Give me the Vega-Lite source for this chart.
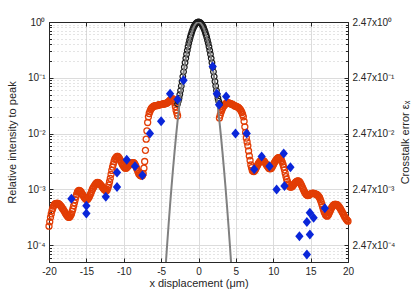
{
"$schema": "https://vega.github.io/schema/vega-lite/v6.json",
"width": 299, "height": 240,
"autosize": {"type": "none"},
"padding": {"left": 49, "top": 22, "right": 68, "bottom": 33},
"background": "white",
"config": {
 "font": "Liberation Sans",
 "view": {"stroke": "#262626", "strokeWidth": 1},
 "axis": {"labelFont": "Liberation Sans", "titleFont": "Liberation Sans", "labelColor": "#262626", "titleColor": "#262626", "domainColor": "#262626", "tickColor": "#262626", "labelFontSize": 10, "titleFontSize": 11, "titleFontWeight": "normal", "labelFlush": false, "labelOverlap": false}
},
"datasets": {
 "red": [
{"x":-20,"y":2.19e-4},{"x":-19.9,"y":2.63e-4},{"x":-19.8,"y":3.16e-4},{"x":-19.7,"y":3.63e-4},{"x":-19.6,"y":4.17e-4},{"x":-19.5,"y":4.57e-4},{"x":-19.4,"y":5.01e-4},{"x":-19.3,"y":5.25e-4},{"x":-19.2,"y":5.5e-4},{"x":-19.1,"y":5.56e-4},{"x":-19,"y":5.62e-4},{"x":-18.9,"y":5.62e-4},{"x":-18.8,"y":5.62e-4},{"x":-18.7,"y":5.5e-4},{"x":-18.6,"y":5.37e-4},{"x":-18.5,"y":5.19e-4},{"x":-18.4,"y":5.01e-4},{"x":-18.3,"y":4.79e-4},{"x":-18.2,"y":4.57e-4},{"x":-18.1,"y":4.37e-4},{"x":-18,"y":4.17e-4},{"x":-17.9,"y":3.94e-4},{"x":-17.8,"y":3.72e-4},{"x":-17.7,"y":3.55e-4},{"x":-17.6,"y":3.39e-4},{"x":-17.5,"y":3.27e-4},{"x":-17.4,"y":3.16e-4},{"x":-17.3,"y":3.16e-4},{"x":-17.2,"y":3.24e-4},{"x":-17.1,"y":3.43e-4},{"x":-17,"y":3.63e-4},{"x":-16.9,"y":4.03e-4},{"x":-16.8,"y":4.47e-4},{"x":-16.7,"y":5.07e-4},{"x":-16.6,"y":5.75e-4},{"x":-16.5,"y":6.53e-4},{"x":-16.4,"y":7.41e-4},{"x":-16.3,"y":8.13e-4},{"x":-16.2,"y":8.91e-4},{"x":-16.1,"y":9.3e-4},{"x":-16,"y":9.55e-4},{"x":-15.9,"y":9.5e-4},{"x":-15.8,"y":9.33e-4},{"x":-15.7,"y":8.91e-4},{"x":-15.6,"y":8.51e-4},{"x":-15.5,"y":8.04e-4},{"x":-15.4,"y":7.59e-4},{"x":-15.3,"y":7.25e-4},{"x":-15.2,"y":6.92e-4},{"x":-15.1,"y":6.76e-4},{"x":-15,"y":6.61e-4},{"x":-14.9,"y":6.6e-4},{"x":-14.8,"y":6.76e-4},{"x":-14.7,"y":7.08e-4},{"x":-14.6,"y":7.41e-4},{"x":-14.5,"y":7.94e-4},{"x":-14.4,"y":8.51e-4},{"x":-14.3,"y":9.23e-4},{"x":-14.2,"y":1.0e-3},{"x":-14.1,"y":1.06e-3},{"x":-14,"y":1.12e-3},{"x":-13.9,"y":1.17e-3},{"x":-13.8,"y":1.23e-3},{"x":-13.7,"y":1.28e-3},{"x":-13.6,"y":1.32e-3},{"x":-13.5,"y":1.33e-3},{"x":-13.4,"y":1.32e-3},{"x":-13.3,"y":1.29e-3},{"x":-13.2,"y":1.26e-3},{"x":-13.1,"y":1.21e-3},{"x":-13,"y":1.17e-3},{"x":-12.9,"y":1.12e-3},{"x":-12.8,"y":1.07e-3},{"x":-12.7,"y":1.03e-3},{"x":-12.6,"y":1.0e-3},{"x":-12.5,"y":9.7e-4},{"x":-12.4,"y":9.55e-4},{"x":-12.3,"y":9.5e-4},{"x":-12.2,"y":1.0e-3},{"x":-12.1,"y":1.08e-3},{"x":-12,"y":1.2e-3},{"x":-11.9,"y":1.37e-3},{"x":-11.8,"y":1.58e-3},{"x":-11.7,"y":1.86e-3},{"x":-11.6,"y":2.19e-3},{"x":-11.5,"y":2.51e-3},{"x":-11.4,"y":2.82e-3},{"x":-11.3,"y":3.16e-3},{"x":-11.2,"y":3.47e-3},{"x":-11.1,"y":3.65e-3},{"x":-11,"y":3.8e-3},{"x":-10.9,"y":3.9e-3},{"x":-10.8,"y":3.89e-3},{"x":-10.7,"y":3.78e-3},{"x":-10.6,"y":3.63e-3},{"x":-10.5,"y":3.43e-3},{"x":-10.4,"y":3.24e-3},{"x":-10.3,"y":3.02e-3},{"x":-10.2,"y":2.82e-3},{"x":-10.1,"y":2.69e-3},{"x":-10,"y":2.57e-3},{"x":-9.9,"y":2.48e-3},{"x":-9.8,"y":2.4e-3},{"x":-9.7,"y":2.4e-3},{"x":-9.6,"y":2.45e-3},{"x":-9.5,"y":2.54e-3},{"x":-9.4,"y":2.63e-3},{"x":-9.3,"y":2.72e-3},{"x":-9.2,"y":2.82e-3},{"x":-9.1,"y":2.89e-3},{"x":-9,"y":2.95e-3},{"x":-8.9,"y":3.0e-3},{"x":-8.8,"y":3.02e-3},{"x":-8.7,"y":3.01e-3},{"x":-8.6,"y":2.95e-3},{"x":-8.5,"y":2.8e-3},{"x":-8.4,"y":2.63e-3},{"x":-8.3,"y":2.43e-3},{"x":-8.2,"y":2.24e-3},{"x":-8.1,"y":2.07e-3},{"x":-8,"y":1.91e-3},{"x":-7.9,"y":1.84e-3},{"x":-7.8,"y":1.78e-3},{"x":-7.7,"y":1.75e-3},{"x":-7.6,"y":1.74e-3},{"x":-7.5,"y":1.78e-3},{"x":-7.4,"y":1.91e-3},{"x":-7.3,"y":2.4e-3},{"x":-7.2,"y":3.16e-3},{"x":-7.1,"y":5.01e-3},{"x":-7,"y":7.94e-3},{"x":-6.9,"y":1.12e-2},{"x":-6.8,"y":1.58e-2},{"x":-6.7,"y":2.0e-2},{"x":-6.6,"y":2.29e-2},{"x":-6.5,"y":2.5e-2},{"x":-6.4,"y":2.69e-2},{"x":-6.3,"y":2.83e-2},{"x":-6.2,"y":2.95e-2},{"x":-6.1,"y":3.02e-2},{"x":-6,"y":3.09e-2},{"x":-5.9,"y":3.12e-2},{"x":-5.8,"y":3.16e-2},{"x":-5.7,"y":3.16e-2},{"x":-5.6,"y":3.16e-2},{"x":-5.5,"y":3.2e-2},{"x":-5.4,"y":3.24e-2},{"x":-5.3,"y":3.27e-2},{"x":-5.2,"y":3.31e-2},{"x":-5.1,"y":3.31e-2},{"x":-5,"y":3.31e-2},{"x":-4.9,"y":3.35e-2},{"x":-4.8,"y":3.39e-2},{"x":-4.7,"y":3.39e-2},{"x":-4.6,"y":3.39e-2},{"x":-4.5,"y":3.43e-2},{"x":-4.4,"y":3.47e-2},{"x":-4.3,"y":3.51e-2},{"x":-4.2,"y":3.55e-2},{"x":-4.1,"y":3.63e-2},{"x":-4,"y":3.72e-2},{"x":-3.9,"y":3.85e-2},{"x":-3.8,"y":3.98e-2},{"x":-3.7,"y":4.07e-2},{"x":-3.6,"y":4.17e-2},{"x":-3.5,"y":4.2e-2},{"x":-3.4,"y":4.17e-2},{"x":-3.3,"y":3.9e-2},{"x":-3.2,"y":3.55e-2},{"x":-3.1,"y":3.05e-2},{"x":-3,"y":2.63e-2},{"x":-2.9,"y":2.34e-2},{"x":-2.8,"y":2.09e-2},
{"x":2.8,"y":1.91e-2},{"x":2.9,"y":2.14e-2},{"x":3,"y":2.4e-2},{"x":3.1,"y":2.6e-2},{"x":3.2,"y":2.82e-2},{"x":3.3,"y":3.0e-2},{"x":3.4,"y":3.16e-2},{"x":3.5,"y":3.27e-2},{"x":3.6,"y":3.39e-2},{"x":3.7,"y":3.47e-2},{"x":3.8,"y":3.55e-2},{"x":3.9,"y":3.57e-2},{"x":4,"y":3.55e-2},{"x":4.1,"y":3.51e-2},{"x":4.2,"y":3.47e-2},{"x":4.3,"y":3.43e-2},{"x":4.4,"y":3.39e-2},{"x":4.5,"y":3.35e-2},{"x":4.6,"y":3.31e-2},{"x":4.7,"y":3.24e-2},{"x":4.8,"y":3.16e-2},{"x":4.9,"y":3.12e-2},{"x":5,"y":3.09e-2},{"x":5.1,"y":3.05e-2},{"x":5.2,"y":3.02e-2},{"x":5.3,"y":2.95e-2},{"x":5.4,"y":2.88e-2},{"x":5.5,"y":2.78e-2},{"x":5.6,"y":2.69e-2},{"x":5.7,"y":2.55e-2},{"x":5.8,"y":2.4e-2},{"x":5.9,"y":2.2e-2},{"x":6,"y":2.0e-2},{"x":6.1,"y":1.66e-2},{"x":6.2,"y":1.32e-2},{"x":6.3,"y":1.05e-2},{"x":6.4,"y":8.32e-3},{"x":6.5,"y":7.08e-3},{"x":6.6,"y":6.03e-3},{"x":6.7,"y":4.9e-3},{"x":6.8,"y":3.98e-3},{"x":6.9,"y":3.31e-3},{"x":7,"y":2.75e-3},{"x":7.1,"y":2.45e-3},{"x":7.2,"y":2.19e-3},{"x":7.3,"y":2.12e-3},{"x":7.4,"y":2.09e-3},{"x":7.5,"y":2.15e-3},{"x":7.6,"y":2.24e-3},{"x":7.7,"y":2.4e-3},{"x":7.8,"y":2.57e-3},{"x":7.9,"y":2.72e-3},{"x":8,"y":2.88e-3},{"x":8.1,"y":3.02e-3},{"x":8.2,"y":3.16e-3},{"x":8.3,"y":3.24e-3},{"x":8.4,"y":3.31e-3},{"x":8.5,"y":3.33e-3},{"x":8.6,"y":3.31e-3},{"x":8.7,"y":3.24e-3},{"x":8.8,"y":3.16e-3},{"x":8.9,"y":3.02e-3},{"x":9,"y":2.88e-3},{"x":9.1,"y":2.75e-3},{"x":9.2,"y":2.63e-3},{"x":9.3,"y":2.51e-3},{"x":9.4,"y":2.4e-3},{"x":9.5,"y":2.36e-3},{"x":9.6,"y":2.34e-3},{"x":9.7,"y":2.38e-3},{"x":9.8,"y":2.45e-3},{"x":9.9,"y":2.6e-3},{"x":10,"y":2.75e-3},{"x":10.1,"y":2.92e-3},{"x":10.2,"y":3.09e-3},{"x":10.3,"y":3.24e-3},{"x":10.4,"y":3.39e-3},{"x":10.5,"y":3.51e-3},{"x":10.6,"y":3.63e-3},{"x":10.7,"y":3.7e-3},{"x":10.8,"y":3.72e-3},{"x":10.9,"y":3.66e-3},{"x":11,"y":3.55e-3},{"x":11.1,"y":3.31e-3},{"x":11.2,"y":3.09e-3},{"x":11.3,"y":2.8e-3},{"x":11.4,"y":2.51e-3},{"x":11.5,"y":2.24e-3},{"x":11.6,"y":1.95e-3},{"x":11.7,"y":1.7e-3},{"x":11.8,"y":1.51e-3},{"x":11.9,"y":1.38e-3},{"x":12,"y":1.26e-3},{"x":12.1,"y":1.19e-3},{"x":12.2,"y":1.12e-3},{"x":12.3,"y":1.1e-3},{"x":12.4,"y":1.1e-3},{"x":12.5,"y":1.12e-3},{"x":12.6,"y":1.15e-3},{"x":12.7,"y":1.2e-3},{"x":12.8,"y":1.26e-3},{"x":12.9,"y":1.3e-3},{"x":13,"y":1.35e-3},{"x":13.1,"y":1.38e-3},{"x":13.2,"y":1.41e-3},{"x":13.3,"y":1.42e-3},{"x":13.4,"y":1.41e-3},{"x":13.5,"y":1.37e-3},{"x":13.6,"y":1.32e-3},{"x":13.7,"y":1.24e-3},{"x":13.8,"y":1.17e-3},{"x":13.9,"y":1.09e-3},{"x":14,"y":1.02e-3},{"x":14.1,"y":9.5e-4},{"x":14.2,"y":8.91e-4},{"x":14.3,"y":8.5e-4},{"x":14.4,"y":8.13e-4},{"x":14.5,"y":7.94e-4},{"x":14.6,"y":7.76e-4},{"x":14.7,"y":7.8e-4},{"x":14.8,"y":7.94e-4},{"x":14.9,"y":8.13e-4},{"x":15,"y":8.32e-4},{"x":15.1,"y":8.42e-4},{"x":15.2,"y":8.51e-4},{"x":15.3,"y":8.55e-4},{"x":15.4,"y":8.51e-4},{"x":15.5,"y":8.42e-4},{"x":15.6,"y":8.32e-4},{"x":15.7,"y":8.22e-4},{"x":15.8,"y":8.13e-4},{"x":15.9,"y":7.94e-4},{"x":16,"y":7.76e-4},{"x":16.1,"y":7.41e-4},{"x":16.2,"y":7.08e-4},{"x":16.3,"y":6.55e-4},{"x":16.4,"y":6.03e-4},{"x":16.5,"y":5.43e-4},{"x":16.6,"y":4.9e-4},{"x":16.7,"y":4.42e-4},{"x":16.8,"y":3.98e-4},{"x":16.9,"y":3.72e-4},{"x":17,"y":3.47e-4},{"x":17.1,"y":3.39e-4},{"x":17.2,"y":3.31e-4},{"x":17.3,"y":3.4e-4},{"x":17.4,"y":3.55e-4},{"x":17.5,"y":3.8e-4},{"x":17.6,"y":4.07e-4},{"x":17.7,"y":4.37e-4},{"x":17.8,"y":4.68e-4},{"x":17.9,"y":4.9e-4},{"x":18,"y":5.13e-4},{"x":18.1,"y":5.25e-4},{"x":18.2,"y":5.37e-4},{"x":18.3,"y":5.4e-4},{"x":18.4,"y":5.37e-4},{"x":18.5,"y":5.31e-4},{"x":18.6,"y":5.25e-4},{"x":18.7,"y":5.07e-4},{"x":18.8,"y":4.9e-4},{"x":18.9,"y":4.68e-4},{"x":19,"y":4.47e-4},{"x":19.1,"y":4.22e-4},{"x":19.2,"y":3.98e-4},{"x":19.3,"y":3.76e-4},{"x":19.4,"y":3.55e-4},{"x":19.5,"y":3.35e-4},{"x":19.6,"y":3.16e-4},{"x":19.7,"y":3.02e-4},{"x":19.8,"y":2.88e-4},{"x":19.9,"y":2.78e-4},{"x":20,"y":2.69e-4}
 ],
 "black": [
{"x":-2.8,"y":0.034},{"x":-2.7,"y":0.038},{"x":-2.6,"y":0.043},{"x":-2.5,"y":0.05},{"x":-2.4,"y":0.059},{"x":-2.3,"y":0.071},{"x":-2.2,"y":0.086},{"x":-2.1,"y":0.105},{"x":-2,"y":0.128},{"x":-1.9,"y":0.155},{"x":-1.8,"y":0.187},{"x":-1.7,"y":0.223},{"x":-1.6,"y":0.264},{"x":-1.5,"y":0.31},{"x":-1.4,"y":0.36},{"x":-1.3,"y":0.414},{"x":-1.2,"y":0.471},{"x":-1.1,"y":0.532},{"x":-1,"y":0.593},{"x":-0.9,"y":0.655},{"x":-0.8,"y":0.716},{"x":-0.7,"y":0.774},{"x":-0.6,"y":0.829},{"x":-0.5,"y":0.878},{"x":-0.4,"y":0.92},{"x":-0.3,"y":0.954},{"x":-0.2,"y":0.979},{"x":-0.1,"y":0.995},{"x":0,"y":1.0},{"x":0.1,"y":0.995},{"x":0.2,"y":0.979},{"x":0.3,"y":0.954},{"x":0.4,"y":0.92},{"x":0.5,"y":0.878},{"x":0.6,"y":0.829},{"x":0.7,"y":0.774},{"x":0.8,"y":0.716},{"x":0.9,"y":0.655},{"x":1,"y":0.593},{"x":1.1,"y":0.532},{"x":1.2,"y":0.471},{"x":1.3,"y":0.414},{"x":1.4,"y":0.36},{"x":1.5,"y":0.31},{"x":1.6,"y":0.264},{"x":1.7,"y":0.223},{"x":1.8,"y":0.187},{"x":1.9,"y":0.155},{"x":2,"y":0.128},{"x":2.1,"y":0.105},{"x":2.2,"y":0.086},{"x":2.3,"y":0.071},{"x":2.4,"y":0.059},{"x":2.5,"y":0.05},{"x":2.6,"y":0.043},{"x":2.7,"y":0.038},{"x":2.8,"y":0.034}
 ],
 "gray": [
{"x":-4.6,"y":1.53e-5},{"x":-4.4,"y":4.06e-5},{"x":-4.2,"y":9.98e-5},{"x":-4,"y":2.35e-4},{"x":-3.8,"y":5.31e-4},{"x":-3.6,"y":1.15e-3},{"x":-3.4,"y":2.39e-3},{"x":-3.2,"y":4.76e-3},{"x":-3,"y":9.1e-3},{"x":-2.8,"y":0.0167},{"x":-2.6,"y":0.0293},{"x":-2.4,"y":0.0494},{"x":-2.2,"y":0.0798},{"x":-2,"y":0.124},{"x":-1.8,"y":0.184},{"x":-1.6,"y":0.263},{"x":-1.4,"y":0.359},{"x":-1.2,"y":0.471},{"x":-1,"y":0.593},{"x":-0.8,"y":0.716},{"x":-0.6,"y":0.829},{"x":-0.4,"y":0.92},{"x":-0.2,"y":0.979},{"x":0,"y":1.0},{"x":0.2,"y":0.979},{"x":0.4,"y":0.92},{"x":0.6,"y":0.829},{"x":0.8,"y":0.716},{"x":1,"y":0.593},{"x":1.2,"y":0.471},{"x":1.4,"y":0.359},{"x":1.6,"y":0.263},{"x":1.8,"y":0.184},{"x":2,"y":0.124},{"x":2.2,"y":0.0798},{"x":2.4,"y":0.0494},{"x":2.6,"y":0.0293},{"x":2.8,"y":0.0167},{"x":3,"y":9.1e-3},{"x":3.2,"y":4.76e-3},{"x":3.4,"y":2.39e-3},{"x":3.6,"y":1.15e-3},{"x":3.8,"y":5.31e-4},{"x":4,"y":2.35e-4},{"x":4.2,"y":9.98e-5},{"x":4.4,"y":4.06e-5},{"x":4.6,"y":1.53e-5}
 ],
 "blue": [
{"x":-17,"y":6.8e-4},{"x":-15,"y":5.1e-4},{"x":-15,"y":3.7e-4},{"x":-12.4,"y":7.4e-4},{"x":-10.9,"y":1.1e-3},{"x":-10.9,"y":2.0e-3},{"x":-9.6,"y":3.4e-3},{"x":-8.5,"y":2.6e-3},{"x":-7.5,"y":1.8e-3},{"x":-6.5,"y":1.0e-2},{"x":-5,"y":1.66e-2},{"x":-3.8,"y":5.2e-2},{"x":-2.8,"y":4.1e-2},{"x":-2,"y":9.0e-2},{"x":1.9,"y":0.16},{"x":2.45,"y":5.2e-2},{"x":2.75,"y":3.3e-2},{"x":3.7,"y":4.6e-2},{"x":4.95,"y":1.0e-2},{"x":6.45,"y":1.0e-2},{"x":7.45,"y":2.3e-3},{"x":8.45,"y":3.9e-3},{"x":9.5,"y":2.6e-3},{"x":10.45,"y":1.0e-3},{"x":11.4,"y":4.4e-3},{"x":11.5,"y":1.15e-3},{"x":12.3,"y":2.5e-3},{"x":13.5,"y":1.45e-4},{"x":14.5,"y":2.6e-4},{"x":14.5,"y":6.8e-5},{"x":14.9,"y":3.8e-4},{"x":14.9,"y":1.55e-4},{"x":15.4,"y":3.1e-4},{"x":16.9,"y":4.6e-4}
 ]
},
"layer": [
 {
  "data": {"name": "red"},
  "mark": {"type": "point", "shape": "circle", "filled": false, "size": 36, "strokeWidth": 1.3, "color": "#e23d05", "opacity": 1},
  "encoding": {
   "x": {"field": "x", "type": "quantitative", "scale": {"domain": [-20, 20], "nice": false, "zero": false},
     "axis": {"orient": "bottom", "values": [-20,-15,-10,-5,0,5,10,15,20], "labelExpr": "'' + datum.value", "title": "x displacement (μm)", "grid": true, "gridColor": "#dcdcdc", "tickSize": -4, "labelPadding": 8, "titleY": 21, "titleBaseline": "middle"}},
   "y": {"field": "y", "type": "quantitative", "scale": {"type": "log", "domain": [0.00005, 1], "nice": false},
     "axis": {"orient": "left",
      "values": [0.00005,0.00006,0.00007,0.00008,0.00009,0.0001,0.0002,0.0003,0.0004,0.0005,0.0006,0.0007,0.0008,0.0009,0.001,0.002,0.003,0.004,0.005,0.006,0.007,0.008,0.009,0.01,0.02,0.03,0.04,0.05,0.06,0.07,0.08,0.09,0.1,0.2,0.3,0.4,0.5,0.6,0.7,0.8,0.9,1],
      "labelExpr": "abs(log(datum.value)/LN10 - round(log(datum.value)/LN10)) > 0.01 ? '' : (round(log(datum.value)/LN10) == 0 ? '10⁰' : round(log(datum.value)/LN10) == -1 ? '10⁻¹' : round(log(datum.value)/LN10) == -2 ? '10⁻²' : round(log(datum.value)/LN10) == -3 ? '10⁻³' : '10⁻⁴')",
      "grid": true,
      "gridColor": {"condition": {"test": "abs(log(datum.value)/LN10 - round(log(datum.value)/LN10)) > 0.01", "value": "#c8c8c8"}, "value": "#dcdcdc"},
      "gridDash": {"condition": {"test": "abs(log(datum.value)/LN10 - round(log(datum.value)/LN10)) > 0.01", "value": [1, 3]}, "value": []},
      "tickSize": {"condition": {"test": "abs(log(datum.value)/LN10 - round(log(datum.value)/LN10)) > 0.01", "value": -2.5}, "value": -4},
      "labelPadding": 8,
      "title": "Relative intensity to peak", "titleX": -37, "titleY": 120, "titleAngle": 270, "titleBaseline": "middle", "titleAlign": "center"}}
  }
 },
 {
  "data": {"name": "black"},
  "mark": {"type": "point", "shape": "circle", "filled": false, "size": 32, "strokeWidth": 1.2, "color": "#1a1a1a", "opacity": 1},
  "encoding": {
   "x": {"field": "x", "type": "quantitative", "scale": {"domain": [-20, 20], "nice": false, "zero": false},
     "axis": {"orient": "top", "values": [-20,-15,-10,-5,0,5,10,15,20], "labels": false, "title": null, "grid": false, "tickSize": -4}},
   "y": {"field": "y", "type": "quantitative", "scale": {"type": "log", "domain": [0.00005, 1], "nice": false},
     "axis": {"orient": "right",
      "values": [0.00005,0.00006,0.00007,0.00008,0.00009,0.0001,0.0002,0.0003,0.0004,0.0005,0.0006,0.0007,0.0008,0.0009,0.001,0.002,0.003,0.004,0.005,0.006,0.007,0.008,0.009,0.01,0.02,0.03,0.04,0.05,0.06,0.07,0.08,0.09,0.1,0.2,0.3,0.4,0.5,0.6,0.7,0.8,0.9,1],
      "labelExpr": "abs(log(datum.value)/LN10 - round(log(datum.value)/LN10)) > 0.01 ? '' : (round(log(datum.value)/LN10) == 0 ? '2.47x10⁰' : round(log(datum.value)/LN10) == -1 ? '2.47x10⁻¹' : round(log(datum.value)/LN10) == -2 ? '2.47x10⁻²' : round(log(datum.value)/LN10) == -3 ? '2.47x10⁻³' : '2.47x10⁻⁴')",
      "grid": false,
      "tickSize": {"condition": {"test": "abs(log(datum.value)/LN10 - round(log(datum.value)/LN10)) > 0.01", "value": -2.5}, "value": -4},
      "labelPadding": 8,
      "title": "Crosstalk error εₓ", "titleX": 57, "titleY": 120, "titleAngle": 270, "titleBaseline": "middle", "titleAlign": "center"}}
  }
 },
 {
  "data": {"name": "gray"},
  "mark": {"type": "line", "color": "#808080", "strokeWidth": 2, "clip": true},
  "encoding": {
   "x": {"field": "x", "type": "quantitative", "axis": null},
   "y": {"field": "y", "type": "quantitative", "axis": null}
  }
 },
 {
  "data": {"name": "blue"},
  "mark": {"type": "point", "shape": "M0,-1L0.83,0L0,1L-0.83,0Z", "filled": true, "size": 100, "color": "#0a26d9", "opacity": 1, "strokeWidth": 0},
  "encoding": {
   "x": {"field": "x", "type": "quantitative", "axis": null},
   "y": {"field": "y", "type": "quantitative", "axis": null}
  }
 }
],
"resolve": {"axis": {"x": "independent", "y": "independent"}}
}
